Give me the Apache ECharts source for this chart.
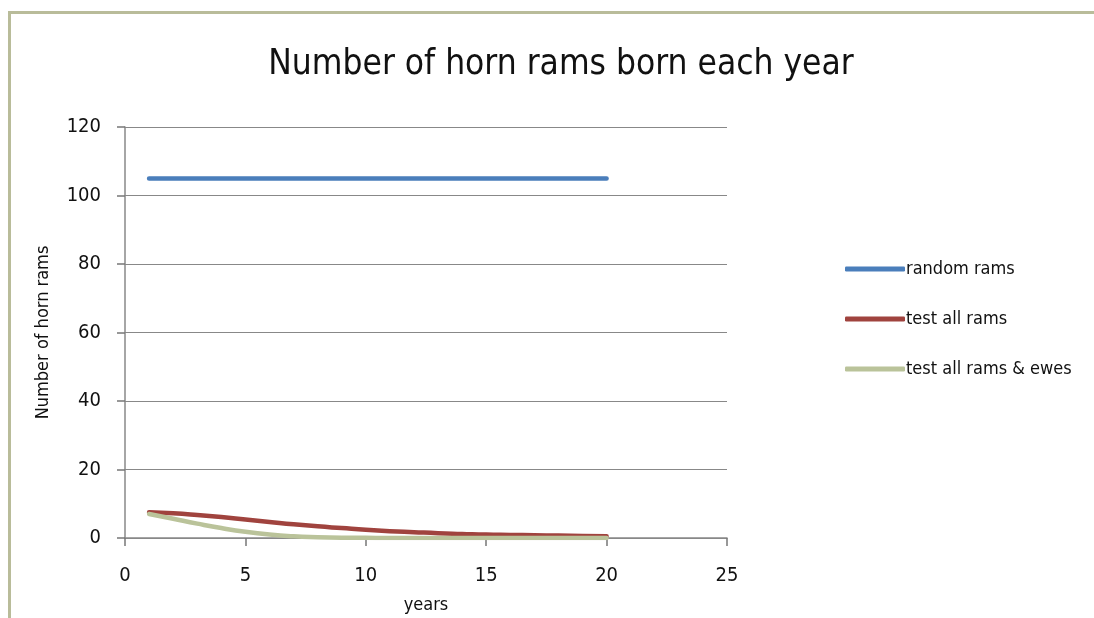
<!DOCTYPE html>
<html>
<head>
<meta charset="utf-8">
<script src="https://cdn.jsdelivr.net/npm/echarts@6/dist/echarts.min.js"></script>
<style>
  html, body { margin: 0; padding: 0; background: #fff; overflow: hidden; }
  #frame { position: absolute; left: 8px; top: 11px; width: 1200px; height: 800px;
           border: 3px solid #b9bc9a; box-sizing: border-box; }
  #chart { position: absolute; left: 0; top: 0; width: 1094px; height: 618px; }
</style>
</head>
<body>
<div id="frame"></div>
<div id="chart"></div>
<script>
// 年份
var years = [1, 2, 3, 4, 5, 6, 7, 8, 9, 10, 11, 12, 13, 14, 15, 16, 17, 18, 19, 20];
// 三条曲线
var randomRams = [105, 105, 105, 105, 105, 105, 105, 105, 105, 105, 105, 105, 105, 105, 105, 105, 105, 105, 105, 105];
var testAllRams = [7.5, 7.2, 6.7, 6.1, 5.4, 4.7, 4.0, 3.4, 2.9, 2.4, 2.0, 1.7, 1.4, 1.2, 1.0, 0.9, 0.8, 0.7, 0.6, 0.5];
var testRamsEwes = [7.0, 5.6, 4.2, 2.9, 1.8, 1.0, 0.5, 0.25, 0.1, 0.05, 0, 0, 0, 0, 0, 0, 0, 0, 0, 0];
var seriesNames = ['random rams', 'test all rams', 'test all rams & ewes'];

function pairs(vals) {
    return years.map(function (y, i) { return [y, vals[i]]; });
}

var font = '"DejaVu Sans Condensed", "Liberation Sans Narrow", sans-serif';

echarts.init(document.getElementById('chart')).setOption({
    animation: false,
    textStyle: { fontFamily: font },
    title: {
        text: 'Number of horn rams born each year',
        left: 556,
        top: 42,
        textAlign: 'center',
        textStyle: { fontFamily: font, fontSize: 35, fontWeight: 'normal', color: '#111' }
    },
    grid: { left: 125, right: 367, top: 127, bottom: 80, outerBoundsMode: 'none' },
    legend: {
        orient: 'vertical',
        left: 845,
        top: 260,
        padding: 0,
        itemWidth: 60,
        itemHeight: 5,
        itemGap: 32,
        icon: 'roundRect',
        textStyle: { fontFamily: font, fontSize: 18, color: '#111', padding: [0, 0, 0, -4] },
        data: seriesNames
    },
    xAxis: {
        type: 'value',
        min: 0,
        max: 25,
        interval: 5,
        name: 'years',
        nameLocation: 'middle',
        nameGap: 58,
        nameTextStyle: { fontFamily: font, fontSize: 18, color: '#111' },
        axisLine: { lineStyle: { color: '#888', width: 1.5 } },
        axisTick: { show: true, length: 8, inside: false, lineStyle: { color: '#777', width: 1.5 } },
        axisLabel: { fontFamily: font, fontSize: 20, color: '#111', margin: 28 },
        splitLine: { show: false }
    },
    yAxis: {
        type: 'value',
        min: 0,
        max: 120,
        interval: 20,
        name: 'Number of horn rams',
        nameLocation: 'middle',
        nameGap: 73,
        nameRotate: 90,
        nameTextStyle: { fontFamily: font, fontSize: 18, color: '#111' },
        axisLine: { show: true, lineStyle: { color: '#888', width: 1.5 } },
        axisTick: { show: true, length: 8, inside: false, lineStyle: { color: '#777', width: 1.5 } },
        axisLabel: { fontFamily: font, fontSize: 20, color: '#111', margin: 24 },
        splitLine: { show: true, lineStyle: { color: '#888', width: 1 } }
    },
    series: [
        { name: seriesNames[0], type: 'line', data: pairs(randomRams), showSymbol: false, smooth: true,
          lineStyle: { width: 4.5, color: '#4a7ebb', cap: 'round' }, itemStyle: { color: '#4a7ebb' } },
        { name: seriesNames[1], type: 'line', data: pairs(testAllRams), showSymbol: false, smooth: true,
          lineStyle: { width: 4.5, color: '#a0433e', cap: 'round' }, itemStyle: { color: '#a0433e' } },
        { name: seriesNames[2], type: 'line', data: pairs(testRamsEwes), showSymbol: false, smooth: true,
          lineStyle: { width: 4.5, color: '#bac39a', cap: 'round' }, itemStyle: { color: '#bac39a' } }
    ]
});
</script>
</body>
</html>
